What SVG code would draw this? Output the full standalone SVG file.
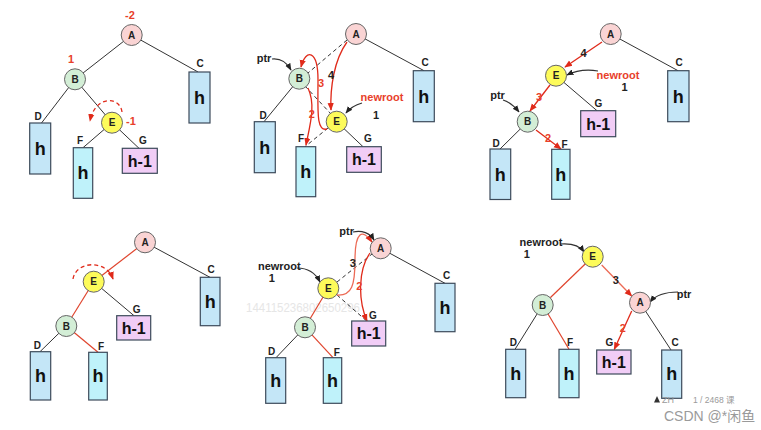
<svg xmlns="http://www.w3.org/2000/svg" width="761" height="430" viewBox="0 0 761 430">
<defs>
<marker id="ar" viewBox="0 0 10 10" refX="9" refY="5" markerWidth="6" markerHeight="6" orient="auto-start-reverse"><path d="M0,1 L10,5 L0,9 z" fill="#e02a1a"/></marker>
<marker id="ak" viewBox="0 0 10 10" refX="9" refY="5" markerWidth="6" markerHeight="6" orient="auto-start-reverse"><path d="M0,1 L10,5 L0,9 z" fill="#222"/></marker>
<style>
.cA{fill:#fad4d4;stroke:#666;stroke-width:1}
.cB{fill:#d3eed6;stroke:#666;stroke-width:1}
.cE{fill:#fdfb5a;stroke:#666;stroke-width:1}
.rb{fill:#c4e6f7;stroke:#3c4a5a;stroke-width:1.2}
.rc{fill:#bff2fa;stroke:#3c4a5a;stroke-width:1.2}
.rp{fill:#f1cdf6;stroke:#3c4a5a;stroke-width:1.2}
.nt{font-family:"Liberation Sans",Arial,sans-serif;font-size:10px;font-weight:bold;fill:#222;text-anchor:middle}
.lb{font-family:"Liberation Sans",Arial,sans-serif;font-size:10px;font-weight:bold;fill:#222;text-anchor:middle}
.h{font-family:"Liberation Sans",Arial,sans-serif;font-size:18px;font-weight:bold;fill:#111;text-anchor:middle}
.h1{font-family:"Liberation Sans",Arial,sans-serif;font-size:16px;font-weight:bold;fill:#111;text-anchor:middle}
.rt{font-family:"Liberation Sans",Arial,sans-serif;font-size:11px;font-weight:bold;fill:#e8402a;text-anchor:middle}
.bt{font-family:"Liberation Sans",Arial,sans-serif;font-size:11px;font-weight:bold;fill:#222;text-anchor:middle}
.bk{stroke:#333;stroke-width:1;fill:none}
.dk{stroke:#333;stroke-width:1;fill:none;stroke-dasharray:4,3}
.rd{stroke:#e0452e;stroke-width:1.2;fill:none}
.ra{stroke:#e02a1a;stroke-width:1.3;fill:none;marker-end:url(#ar)}
.sa{stroke:#ec6a55;stroke-width:1.3;fill:none;marker-end:url(#ar)}
.da{stroke:#e02a1a;stroke-width:1.3;fill:none;stroke-dasharray:4,3;marker-end:url(#ar)}
.ka{stroke:#333;stroke-width:1.2;fill:none;marker-end:url(#ak)}
.wm{font-family:"Liberation Sans",Arial,"Noto Sans CJK SC",sans-serif;fill:#9a9a9a}
</style>
</defs>

<text x="246" y="312" font-family="'Liberation Sans',Arial,sans-serif" font-size="12" fill="#e6e6e6" textLength="114" lengthAdjust="spacingAndGlyphs">144115236802650296</text>

<g id="connectors">
<!-- panel 1 -->
<line class="bk" x1="131.7" y1="35" x2="75" y2="79.3"/>
<line class="bk" x1="131.7" y1="35" x2="198" y2="72"/>
<line class="bk" x1="75" y1="79.3" x2="41.5" y2="123"/>
<line class="bk" x1="75" y1="79.3" x2="112" y2="122.7"/>
<line class="bk" x1="112" y1="122.7" x2="83" y2="147.7"/>
<line class="bk" x1="112" y1="122.7" x2="139" y2="148.3"/>
<path class="da" d="M122,112 C120,96 95,95 90,121"/>
<!-- panel 2 -->
<line class="bk" x1="356" y1="34" x2="424" y2="70.7"/>
<line class="bk" x1="299.3" y1="78.7" x2="264" y2="121.7"/>
<line class="bk" x1="336.7" y1="121.7" x2="363" y2="146.7"/>
<line class="dk" x1="347" y1="40" x2="308" y2="73"/>
<line class="dk" x1="305" y1="86" x2="331" y2="114"/>
<line class="dk" x1="328" y1="128" x2="305" y2="146.7"/>
<path class="ra" d="M347,42 C334,60 330,88 331,110"/>
<path class="ra" d="M327,129 C316,132 318,110 318,80 C318,50 306,48 301,67"/>
<path class="ra" d="M308,88 C316,105 310,125 306,145"/>
<path class="ka" d="M272,59 C282,58 287,63 291,70"/>
<path class="ka" d="M362,103 C355,105 350,108 346,113"/>
<!-- panel 3 -->
<line class="bk" x1="610.7" y1="34" x2="678" y2="70.7"/>
<line class="bk" x1="556" y1="75.7" x2="597" y2="110.7"/>
<line class="bk" x1="527.7" y1="121.7" x2="500" y2="149"/>
<path class="ra" d="M602,42 L565,67"/>
<path class="ra" d="M550,85 L530,111"/>
<path class="ra" d="M536,130 L561,149"/>
<path class="ka" d="M598,71 C585,69 575,71 567,75"/>
<path class="ka" d="M503,100 C510,102 515,107 519,112"/>
<!-- panel 4 -->
<line class="rd" x1="145" y1="242.3" x2="93.7" y2="281.7"/>
<line class="bk" x1="145" y1="242.3" x2="210" y2="277.3"/>
<line class="bk" x1="93.7" y1="281.7" x2="134" y2="315.7"/>
<line class="rd" x1="93.7" y1="281.7" x2="66.3" y2="326"/>
<line class="bk" x1="66.3" y1="326" x2="40" y2="351.7"/>
<line class="rd" x1="66.3" y1="326" x2="98" y2="352.3"/>
<path class="da" d="M73,279 C76,261 106,259 113,279"/>
<!-- panel 5 -->
<line class="bk" x1="380.7" y1="248.3" x2="445" y2="283.3"/>
<line class="rd" x1="328.3" y1="288.3" x2="305" y2="327.3"/>
<line class="bk" x1="305" y1="327.3" x2="276" y2="357.7"/>
<line class="rd" x1="305" y1="327.3" x2="333" y2="357.7"/>
<line class="dk" x1="337" y1="282" x2="372" y2="254"/>
<line class="dk" x1="337" y1="295" x2="366.7" y2="321"/>
<path class="sa" d="M337,295 C352,296 355,285 355,260 C355,232 362,228 372,242"/>
<path class="ra" d="M370,253 C358,270 358,300 367,321"/>
<path class="ka" d="M353,232 C362,230 370,233 374,240"/>
<path class="ka" d="M297,268 C308,268 316,274 320,282"/>
<!-- panel 6 -->
<line class="rd" x1="592.7" y1="256.7" x2="542.7" y2="305"/>
<line class="bk" x1="542.7" y1="305" x2="515" y2="349.3"/>
<line class="rd" x1="542.7" y1="305" x2="569" y2="349.3"/>
<line class="bk" x1="640" y1="302.7" x2="671" y2="350"/>
<path class="sa" d="M601.7,265 L631.7,296"/>
<path class="ra" d="M631.7,311 L614.3,349.3"/>
<path class="ka" d="M560,244 C572,243 580,246 584,252"/>
<path class="ka" d="M678,292 C665,292 655,296 650,302"/>
</g>

<!-- panel 1 nodes -->
<g id="p1-A"><circle class="cA" cx="131.7" cy="35" r="10.5"/><text class="nt" x="131.7" y="38.5">A</text></g>
<g id="p1-B"><circle class="cB" cx="75" cy="79.3" r="10.5"/><text class="nt" x="75" y="82.8">B</text></g>
<g id="p1-E"><circle class="cE" cx="112" cy="122.7" r="10.5"/><text class="nt" x="112" y="126.2">E</text></g>
<g id="p1-C"><rect class="rb" x="189" y="72" width="21" height="51"/><text class="h" x="199.5" y="104">h</text><text class="lb" x="200" y="67">C</text></g>
<g id="p1-D"><rect class="rb" x="29.7" y="123" width="21" height="51"/><text class="h" x="40.2" y="155">h</text><text class="lb" x="38" y="120">D</text></g>
<g id="p1-F"><rect class="rc" x="73.3" y="147.7" width="19.4" height="50.6"/><text class="h" x="83" y="179">h</text><text class="lb" x="80" y="144">F</text></g>
<g id="p1-G"><rect class="rp" x="122.3" y="148.3" width="35" height="25"/><text class="h1" x="139.8" y="166.5">h-1</text><text class="lb" x="143" y="144">G</text></g>
<g id="p1-bal"><text class="rt" x="130" y="19">-2</text><text class="rt" x="71" y="63">1</text><text class="rt" x="131" y="125">-1</text></g>

<!-- panel 2 nodes -->
<g id="p2-A"><circle class="cA" cx="356" cy="34" r="10.5"/><text class="nt" x="356" y="37.5">A</text></g>
<g id="p2-B"><circle class="cB" cx="299.3" cy="78.7" r="10.5"/><text class="nt" x="299.3" y="82.2">B</text></g>
<g id="p2-E"><circle class="cE" cx="336.7" cy="121.7" r="10.5"/><text class="nt" x="336.7" y="125.2">E</text></g>
<g id="p2-C"><rect class="rb" x="413.3" y="70.7" width="21" height="51"/><text class="h" x="423.8" y="103">h</text><text class="lb" x="425" y="66">C</text></g>
<g id="p2-D"><rect class="rb" x="254.3" y="121.7" width="21" height="51"/><text class="h" x="264.8" y="154">h</text><text class="lb" x="263" y="119">D</text></g>
<g id="p2-F"><rect class="rc" x="296" y="146.7" width="19.7" height="50"/><text class="h" x="305.8" y="178">h</text><text class="lb" x="301" y="142">F</text></g>
<g id="p2-G"><rect class="rp" x="346.7" y="146.7" width="34.6" height="25.6"/><text class="h1" x="364" y="165">h-1</text><text class="lb" x="368" y="142">G</text></g>
<g id="p2-labels"><text class="bt" x="331" y="79">4</text><text class="rt" x="321" y="87">3</text><text class="rt" x="311.7" y="118">2</text>
<text class="bt" x="264" y="62">ptr</text><text class="rt" x="382" y="101">newroot</text><text class="bt" x="376" y="119">1</text></g>

<!-- panel 3 nodes -->
<g id="p3-A"><circle class="cA" cx="610.7" cy="34" r="10.5"/><text class="nt" x="610.7" y="37.5">A</text></g>
<g id="p3-E"><circle class="cE" cx="556" cy="75.7" r="10.5"/><text class="nt" x="556" y="79.2">E</text></g>
<g id="p3-B"><circle class="cB" cx="527.7" cy="121.7" r="10.5"/><text class="nt" x="527.7" y="125.2">B</text></g>
<g id="p3-C"><rect class="rb" x="667.7" y="70.7" width="21.3" height="51"/><text class="h" x="678.3" y="103">h</text><text class="lb" x="679" y="66">C</text></g>
<g id="p3-G"><rect class="rp" x="580.7" y="110.7" width="35" height="26"/><text class="h1" x="598.2" y="129.5">h-1</text><text class="lb" x="598.5" y="107">G</text></g>
<g id="p3-D"><rect class="rb" x="490" y="149" width="20.7" height="50.5"/><text class="h" x="500.3" y="181">h</text><text class="lb" x="496" y="146.5">D</text></g>
<g id="p3-F"><rect class="rc" x="551.7" y="149.3" width="18.3" height="50"/><text class="h" x="560.8" y="181">h</text><text class="lb" x="564.5" y="147.5">F</text></g>
<g id="p3-labels"><text class="bt" x="583.5" y="57">4</text><text class="rt" x="539" y="101">3</text><text class="rt" x="548" y="142">2</text>
<text class="rt" x="618" y="79">newroot</text><text class="bt" x="624.5" y="90.5">1</text><text class="bt" x="497.5" y="99">ptr</text></g>

<!-- panel 4 nodes -->
<g id="p4-A"><circle class="cA" cx="145" cy="242.3" r="10.5"/><text class="nt" x="145" y="245.8">A</text></g>
<g id="p4-E"><circle class="cE" cx="93.7" cy="281.7" r="10.5"/><text class="nt" x="93.7" y="285.2">E</text></g>
<g id="p4-B"><circle class="cB" cx="66.3" cy="326" r="10.5"/><text class="nt" x="66.3" y="329.5">B</text></g>
<g id="p4-C"><rect class="rb" x="200.3" y="277.3" width="19.7" height="48.4"/><text class="h" x="210.2" y="308">h</text><text class="lb" x="211" y="273">C</text></g>
<g id="p4-G"><rect class="rp" x="116.7" y="315.7" width="34" height="24.3"/><text class="h1" x="133.7" y="333.5">h-1</text><text class="lb" x="136.7" y="312.5">G</text></g>
<g id="p4-D"><rect class="rb" x="30.3" y="351.7" width="20.4" height="48.3"/><text class="h" x="40.5" y="382">h</text><text class="lb" x="37.3" y="348.5">D</text></g>
<g id="p4-F"><rect class="rc" x="88.7" y="352.3" width="18.6" height="47.7"/><text class="h" x="98" y="382">h</text><text class="lb" x="101" y="350">F</text></g>

<!-- panel 5 nodes -->
<g id="p5-A"><circle class="cA" cx="380.7" cy="248.3" r="10.5"/><text class="nt" x="380.7" y="251.8">A</text></g>
<g id="p5-E"><circle class="cE" cx="328.3" cy="288.3" r="10.5"/><text class="nt" x="328.3" y="291.8">E</text></g>
<g id="p5-B"><circle class="cB" cx="305" cy="327.3" r="10.5"/><text class="nt" x="305" y="330.8">B</text></g>
<g id="p5-C"><rect class="rb" x="435" y="283.3" width="20" height="48.4"/><text class="h" x="445" y="314">h</text><text class="lb" x="446.7" y="279">C</text></g>
<g id="p5-G"><rect class="rp" x="351.7" y="321" width="34" height="25"/><text class="h1" x="368.7" y="339.3">h-1</text><text class="lb" x="373" y="319">G</text></g>
<g id="p5-D"><rect class="rb" x="265.7" y="357.7" width="20" height="45.6"/><text class="h" x="275.7" y="387">h</text><text class="lb" x="271.7" y="355">D</text></g>
<g id="p5-F"><rect class="rc" x="323.3" y="357.7" width="18.4" height="45.6"/><text class="h" x="332.5" y="387">h</text><text class="lb" x="336.7" y="355.5">F</text></g>
<g id="p5-labels"><text class="bt" x="352.7" y="267">3</text><text class="rt" x="359.3" y="290">2</text>
<text class="bt" x="346.7" y="235">ptr</text><text class="bt" x="279.3" y="270">newroot</text><text class="bt" x="271.7" y="282">1</text></g>

<!-- panel 6 nodes -->
<g id="p6-E"><circle class="cE" cx="592.7" cy="256.7" r="10.5"/><text class="nt" x="592.7" y="260.2">E</text></g>
<g id="p6-B"><circle class="cB" cx="542.7" cy="305" r="10.5"/><text class="nt" x="542.7" y="308.5">B</text></g>
<g id="p6-A"><circle class="cA" cx="640" cy="302.7" r="10.5"/><text class="nt" x="640" y="306.2">A</text></g>
<g id="p6-D"><rect class="rb" x="505.7" y="349.3" width="20" height="48.4"/><text class="h" x="515.7" y="380">h</text><text class="lb" x="513.3" y="346">D</text></g>
<g id="p6-F"><rect class="rc" x="559" y="349.3" width="20" height="48.4"/><text class="h" x="569" y="380">h</text><text class="lb" x="570" y="346">F</text></g>
<g id="p6-G"><rect class="rp" x="596.7" y="350" width="34.3" height="24"/><text class="h1" x="613.8" y="368">h-1</text><text class="lb" x="609.3" y="346">G</text></g>
<g id="p6-C"><rect class="rb" x="661.7" y="350" width="20" height="48.3"/><text class="h" x="671.7" y="380">h</text><text class="lb" x="675" y="346">C</text></g>
<g id="p6-labels"><text class="bt" x="615.7" y="284">3</text><text class="rt" x="622.7" y="332">2</text>
<text class="bt" x="541" y="246">newroot</text><text class="bt" x="526.7" y="257.5">1</text><text class="bt" x="684" y="298">ptr</text></g>

<g id="watermark">
<path d="M654,402.5 L657,396 L660,402.5 z" fill="#333"/>
<text class="wm" x="662" y="403" font-size="9">ZH</text>
<text class="wm" x="693" y="403" font-size="8.5">1 / 2468 课</text>
<text class="wm" x="664" y="421" font-size="14">CSDN @*闲鱼</text>
</g>
</svg>
